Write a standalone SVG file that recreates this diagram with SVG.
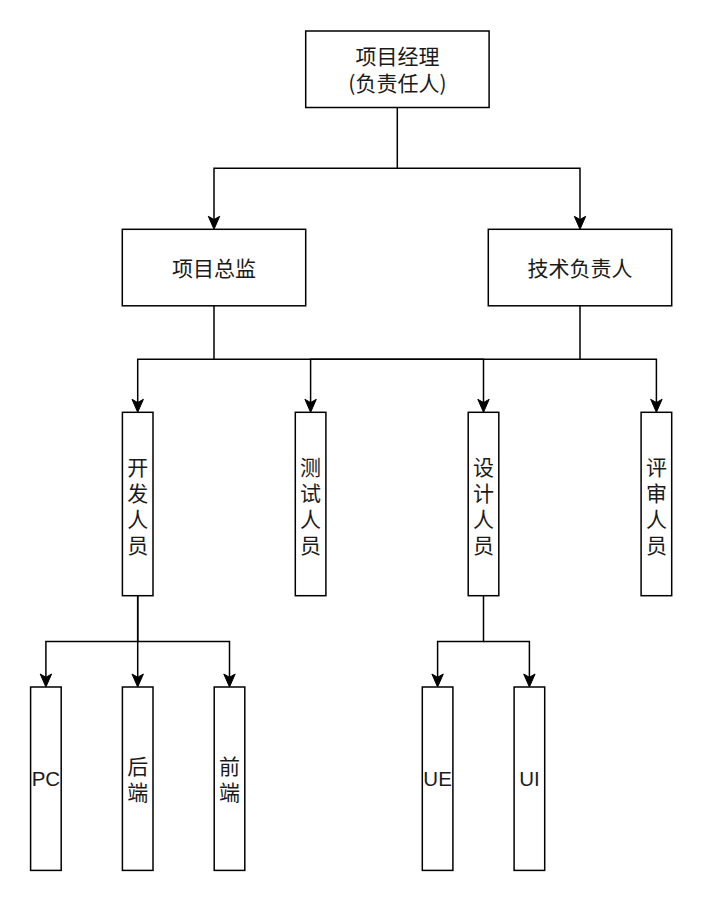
<svg xmlns="http://www.w3.org/2000/svg" width="703" height="903" viewBox="0 0 703 903">
<style>
.box{fill:#ffffff;stroke:#000000;stroke-width:1.5}
.edge{fill:none;stroke:#000000;stroke-width:1.5}
.cjk{font-family:"Noto Sans CJK SC","Liberation Sans",sans-serif;font-size:21px;fill:#1a1a1a;text-anchor:middle}
.lat{font-family:"Liberation Sans","Noto Sans CJK SC",sans-serif;font-size:20.5px;fill:#1a1a1a;text-anchor:middle}
</style>
<defs>
<marker id="arr" markerUnits="userSpaceOnUse" viewBox="-14 -7 14 14" markerWidth="14" markerHeight="14" refX="-4" refY="0" orient="auto" overflow="visible">
<path d="M0,0 L-13,-5.7 L-9.75,0 L-13,5.7 Z" fill="#000000" stroke="#000000" stroke-width="1"/>
</marker>
</defs>
<rect width="703" height="903" fill="#ffffff"/>
<g id="connectors">
<path class="edge" d="M397.3,107.5 V168.3 H214 V225.3" marker-end="url(#arr)"/>
<path class="edge" d="M397.3,168.3 H580 V225.3" marker-end="url(#arr)"/>
<path class="edge" d="M214,305.8 V359.3 H137.7 V408.3" marker-end="url(#arr)"/>
<path class="edge" d="M214,359.3 H483.5 V408.3" marker-end="url(#arr)"/>
<path class="edge" d="M580,305.8 V359.3 H310.6 V408.3" marker-end="url(#arr)"/>
<path class="edge" d="M580,359.3 H656.4 V408.3" marker-end="url(#arr)"/>
<path class="edge" d="M137.7,595.7 V641.5 H45.9 V683" marker-end="url(#arr)"/>
<path class="edge" d="M137.7,595.7 V683" marker-end="url(#arr)"/>
<path class="edge" d="M137.7,641.5 H229.5 V683" marker-end="url(#arr)"/>
<path class="edge" d="M483.5,595.7 V641.5 H437.6 V683" marker-end="url(#arr)"/>
<path class="edge" d="M483.5,641.5 H529.4 V683" marker-end="url(#arr)"/>
</g>
<g id="pm">
<rect class="box" x="305.7" y="31" width="183.4" height="76.5"/>
<text class="cjk" x="397.4" y="64"><tspan x="397.4" y="64">项目经理</tspan><tspan x="397.4" y="90.5">(负责任人)</tspan></text>
</g>
<g id="director">
<rect class="box" x="122.3" y="229.3" width="183.4" height="76.5"/>
<text class="cjk" x="214" y="275.5">项目总监</text>
</g>
<g id="techlead">
<rect class="box" x="488.3" y="229.3" width="183.4" height="76.5"/>
<text class="cjk" x="580" y="275.5">技术负责人</text>
</g>
<g id="dev">
<rect class="box" x="122.4" y="412.3" width="30.6" height="183.4"/>
<text class="cjk" x="137.7" y="474.5"><tspan x="137.7" y="474.5">开</tspan><tspan x="137.7" y="500.5">发</tspan><tspan x="137.7" y="526.5">人</tspan><tspan x="137.7" y="552.5">员</tspan></text>
</g>
<g id="test">
<rect class="box" x="295.3" y="412.3" width="30.6" height="183.4"/>
<text class="cjk" x="310.6" y="474.5"><tspan x="310.6" y="474.5">测</tspan><tspan x="310.6" y="500.5">试</tspan><tspan x="310.6" y="526.5">人</tspan><tspan x="310.6" y="552.5">员</tspan></text>
</g>
<g id="design">
<rect class="box" x="468.2" y="412.3" width="30.6" height="183.4"/>
<text class="cjk" x="483.5" y="474.5"><tspan x="483.5" y="474.5">设</tspan><tspan x="483.5" y="500.5">计</tspan><tspan x="483.5" y="526.5">人</tspan><tspan x="483.5" y="552.5">员</tspan></text>
</g>
<g id="review">
<rect class="box" x="641.1" y="412.3" width="30.6" height="183.4"/>
<text class="cjk" x="656.4" y="474.5"><tspan x="656.4" y="474.5">评</tspan><tspan x="656.4" y="500.5">审</tspan><tspan x="656.4" y="526.5">人</tspan><tspan x="656.4" y="552.5">员</tspan></text>
</g>
<g id="pc">
<rect class="box" x="30.6" y="687" width="30.6" height="183.4"/>
<text class="lat" x="45.9" y="786.3">PC</text>
</g>
<g id="backend">
<rect class="box" x="122.4" y="687" width="30.6" height="183.4"/>
<text class="cjk" x="137.7" y="774"><tspan x="137.7" y="774">后</tspan><tspan x="137.7" y="800">端</tspan></text>
</g>
<g id="frontend">
<rect class="box" x="214.2" y="687" width="30.6" height="183.4"/>
<text class="cjk" x="229.5" y="774"><tspan x="229.5" y="774">前</tspan><tspan x="229.5" y="800">端</tspan></text>
</g>
<g id="ue">
<rect class="box" x="422.3" y="687" width="30.6" height="183.4"/>
<text class="lat" x="437.6" y="786.3">UE</text>
</g>
<g id="ui">
<rect class="box" x="514.1" y="687" width="30.6" height="183.4"/>
<text class="lat" x="529.4" y="786.3">UI</text>
</g>
</svg>
